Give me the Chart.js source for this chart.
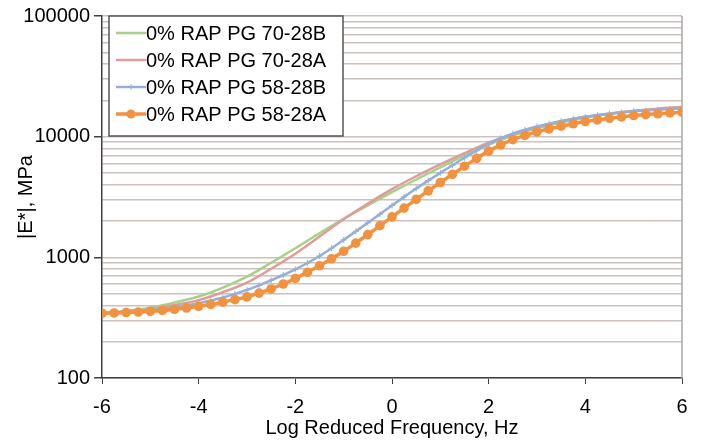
<!DOCTYPE html>
<html>
<head>
<meta charset="utf-8">
<script src="https://cdn.jsdelivr.net/npm/chart.js@4.4.1/dist/chart.umd.min.js"></script>
<style>
  html, body { margin: 0; padding: 0; background: #fff; }
  #wrap { width: 702px; height: 440px; }
</style>
</head>
<body>
<div id="wrap"><canvas id="chartModulus" width="702" height="440"></canvas></div>
<script>
// Frecuencias (log Hz)
const freqQuarter = [-6, -5.75, -5.5, -5.25, -5, -4.75, -4.5, -4.25, -4, -3.75, -3.5, -3.25, -3,
    -2.75, -2.5, -2.25, -2, -1.75, -1.5, -1.25, -1, -0.75, -0.5, -0.25, 0,
    0.25, 0.5, 0.75, 1, 1.25, 1.5, 1.75, 2, 2.25, 2.5, 2.75, 3,
    3.25, 3.5, 3.75, 4, 4.25, 4.5, 4.75, 5, 5.25, 5.5, 5.75, 6];
const freqHalf = [-6, -5.5, -5, -4.5, -4, -3.5, -3, -2.5, -2, -1.5, -1, -0.5, 0,
    0.5, 1, 1.5, 2, 2.5, 3, 3.5, 4, 4.5, 5, 5.5, 6];

// |E*| en MPa
const pg7028B = [344, 360, 383, 422, 473, 562, 692, 902, 1189, 1585, 2089, 2692, 3467,
    4416, 5559, 6998, 8610, 10233, 11749, 13122, 14355, 15382, 16218, 16904, 17458];
const pg7028A = [344, 356, 372, 402, 442, 514, 617, 804, 1072, 1486, 2065, 2786, 3673,
    4699, 5888, 7295, 8913, 10471, 12023, 13366, 14622, 15596, 16406, 17061, 17579];
const pg5828B = [344, 348, 352, 358, 366, 375, 386, 400, 417, 439, 465, 498, 537,
    586, 646, 714, 794, 897, 1026, 1191, 1396, 1641, 1932, 2280, 2692,
    3170, 3715, 4325, 5012, 5794, 6683, 7656, 8710, 9705, 10593, 11402, 12162,
    12823, 13459, 14060, 14622, 15066, 15488, 15849, 16218, 16482, 16749, 16982, 17179];
const pg5828A = [344, 346, 349, 352, 357, 363, 371, 380, 393, 407, 425, 446, 470,
    505, 547, 601, 668, 752, 851, 973, 1122, 1312, 1545, 1828, 2163,
    2559, 3020, 3556, 4169, 4875, 5689, 6607, 7586, 8551, 9441, 10233, 10965,
    11614, 12218, 12794, 13335, 13772, 14191, 14588, 14962, 15241, 15488, 15740, 15959];

const seriesNames = ['0% RAP PG 70-28B', '0% RAP PG 70-28A', '0% RAP PG 58-28B', '0% RAP PG 58-28A'];
const yMajor = [100, 1000, 10000, 100000];
const xTicks = [-6, -4, -2, 0, 2, 4, 6];

const colGreen = '#a9cf88';
const colRed = '#dc9d9b';
const colBlue = '#92b0db';
const colOrange = '#f0923f';

function pts(xs, ys) {
    return xs.map((x, i) => ({ x: x, y: ys[i] }));
}

// Leyenda dentro del área del gráfico
const legendBox = {
    id: 'legendBox',
    afterDraw(chart) {
        const ctx = chart.ctx;
        const left = chart.chartArea.left + 7;
        const top = chart.chartArea.top;
        ctx.save();
        ctx.fillStyle = '#fff';
        ctx.fillRect(left, top, 234, 120);
        ctx.strokeStyle = '#555';
        ctx.lineWidth = 1.5;
        ctx.strokeRect(left, top, 234, 120);
        chart.data.datasets.forEach((ds, i) => {
            const y = top + 17 + i * 27;
            ctx.strokeStyle = ds.borderColor;
            ctx.lineWidth = ds.borderWidth;
            ctx.beginPath();
            ctx.moveTo(left + 7, y);
            ctx.lineTo(left + 37, y);
            ctx.stroke();
            if (ds.pointStyle === 'circle') {
                ctx.fillStyle = ds.borderColor;
                ctx.beginPath();
                ctx.arc(left + 22, y, 4.5, 0, Math.PI * 2);
                ctx.fill();
            } else if (ds.pointStyle === 'cross') {
                ctx.lineWidth = 1;
                ctx.beginPath();
                ctx.moveTo(left + 22, y - 3);
                ctx.lineTo(left + 22, y + 3);
                ctx.stroke();
            }
            ctx.fillStyle = '#000';
            ctx.font = '20px "Liberation Sans", Arial, sans-serif';
            ctx.textBaseline = 'middle';
            ctx.fillText(ds.label, left + 37, y + 1);
        });
        ctx.restore();
    }
};

// Borde derecho del área
const frame = {
    id: 'frame',
    beforeDatasetsDraw(chart) {
        const { ctx, chartArea } = chart;
        ctx.save();
        ctx.strokeStyle = '#a8a8a8';
        ctx.lineWidth = 1.5;
        ctx.beginPath();
        ctx.moveTo(chartArea.right, chartArea.top);
        ctx.lineTo(chartArea.right, chartArea.bottom);
        ctx.stroke();
        ctx.restore();
    }
};

Chart.defaults.font.family = '"Liberation Sans", Arial, sans-serif';
Chart.defaults.color = '#000';

const ctx = document.getElementById('chartModulus').getContext('2d');
new Chart(ctx, {
    type: 'line',
    data: {
        datasets: [
            {
                label: seriesNames[0],
                data: pts(freqHalf, pg7028B),
                borderColor: colGreen,
                backgroundColor: colGreen,
                borderWidth: 2.5,
                pointRadius: 0,
                cubicInterpolationMode: 'monotone',
                order: 3
            },
            {
                label: seriesNames[1],
                data: pts(freqHalf, pg7028A),
                borderColor: colRed,
                backgroundColor: colRed,
                borderWidth: 2.5,
                pointRadius: 0,
                cubicInterpolationMode: 'monotone',
                order: 2
            },
            {
                label: seriesNames[2],
                data: pts(freqQuarter, pg5828B),
                borderColor: colBlue,
                backgroundColor: colBlue,
                borderWidth: 2.5,
                pointStyle: 'cross',
                pointRadius: 3,
                pointBorderWidth: 1,
                cubicInterpolationMode: 'monotone',
                order: 1
            },
            {
                label: seriesNames[3],
                data: pts(freqQuarter, pg5828A),
                borderColor: colOrange,
                backgroundColor: colOrange,
                borderWidth: 3.5,
                pointStyle: 'circle',
                pointRadius: 4.8,
                pointBorderWidth: 0,
                cubicInterpolationMode: 'monotone',
                order: 0
            }
        ]
    },
    options: {
        responsive: false,
        animation: false,
        devicePixelRatio: 1,
        layout: {
            padding: { top: 16, right: 20, left: 14, bottom: 0 }
        },
        plugins: {
            legend: { display: false },
            tooltip: { enabled: false }
        },
        scales: {
            x: {
                type: 'linear',
                min: -6,
                max: 6,
                afterBuildTicks: (scale) => {
                    scale.ticks = xTicks.map(v => ({ value: v }));
                },
                afterFit: (scale) => { scale.height = 62; },
                ticks: {
                    font: { size: 20 },
                    padding: 11
                },
                grid: {
                    drawOnChartArea: false,
                    tickColor: '#404040',
                    tickLength: 6
                },
                border: { color: '#404040', width: 1.5 },
                title: {
                    display: true,
                    text: 'Log Reduced Frequency, Hz',
                    font: { size: 20 },
                    padding: { top: 0, bottom: 0 }
                }
            },
            y: {
                type: 'logarithmic',
                min: 100,
                max: 100000,
                afterBuildTicks: (scale) => {
                    const t = [];
                    for (let d = 100; d < 100000; d *= 10) {
                        for (let m = 1; m < 10; m++) t.push({ value: d * m });
                    }
                    t.push({ value: 100000 });
                    scale.ticks = t;
                },
                afterFit: (scale) => { scale.width = 88; },
                ticks: {
                    font: { size: 20 },
                    padding: 4,
                    autoSkip: false,
                    callback: (v) => yMajor.includes(v) ? String(v) : ''
                },
                grid: {
                    color: '#cbc2bd',
                    lineWidth: 1.5,
                    tickColor: (c) => (c.tick && yMajor.includes(c.tick.value)) ? '#404040' : 'rgba(0,0,0,0)',
                    tickLength: 8
                },
                border: { color: '#404040', width: 1.5 },
                title: {
                    display: true,
                    text: '|E*|, MPa',
                    font: { size: 20 },
                    padding: { top: 0, bottom: 0 }
                }
            }
        }
    },
    plugins: [legendBox, frame]
});
</script>
</body>
</html>
